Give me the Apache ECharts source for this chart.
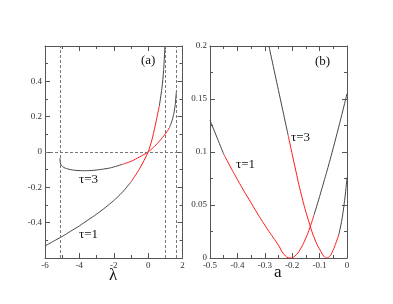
<!DOCTYPE html>
<html><head><meta charset="utf-8">
<script src="https://cdn.jsdelivr.net/npm/echarts@6/dist/echarts.min.js"></script>
<style>html,body{margin:0;padding:0;background:#fff}#c{width:393px;height:304px}</style>
</head><body><div id="c"></div>
<script>
// Panel (a): y vs lambda
const lamT1 = [-6,-5.5,-5,-4.5,-4,-3.5,-3,-2.5,-2,-1.5,-1,-0.5,0,0.25,0.5,0.65,0.8,0.9,0.98];
const yT1a  = [-0.532,-0.505,-0.478,-0.448,-0.418,-0.385,-0.352,-0.315,-0.275,-0.228,-0.17,-0.095,0,0.08,0.19,0.26,0.36,0.46,0.6];
const redT1a = [-1, 0.65];
const lamT3 = [-5.13,-5.11,-5.05,-4.9,-4.6,-4.2,-3.7,-3.2,-2.7,-2.2,-1.5,-1,-0.5,0,0.3,0.6,0.9,1.1,1.25,1.4,1.5,1.58,1.64];
const yT3a  = [-0.035,-0.06,-0.075,-0.088,-0.098,-0.104,-0.106,-0.104,-0.098,-0.09,-0.07,-0.053,-0.028,0,0.025,0.055,0.09,0.115,0.14,0.18,0.22,0.27,0.34];
const redT3a = [-1.5, 1.25];
const vLines = [-5.13, 1.0, 1.64];
const hLines = [0];
// Panel (b): y vs a
const aT1 = [-0.5,-0.45,-0.4,-0.35,-0.3,-0.25,-0.23,-0.207,-0.19,-0.17,-0.15,-0.135,-0.12,-0.1,-0.05,0];
const yT1b = [0.13,0.098,0.074,0.052,0.031,0.012,0.0035,0.0,0.0018,0.0085,0.019,0.029,0.041,0.058,0.104,0.155];
const redT1b = [-0.45, -0.12];
const aT3 = [-0.285,-0.25,-0.215,-0.19,-0.165,-0.14,-0.115,-0.095,-0.085,-0.075,-0.065,-0.055,-0.035,-0.03,-0.015,0];
const yT3b = [0.2,0.158,0.116,0.086,0.058,0.035,0.016,0.006,0.0018,0.0,0.0012,0.005,0.018,0.022,0.042,0.076];
const redT3b = [-0.215, -0.03];
const xTicksA = [-6, 2, 2];   // min, max, interval
const yTicksA = [-0.6, 0.6, 0.2];
const xTicksB = [-0.5, 0, 0.1];
const yTicksB = [0, 0.2, 0.05];

const BLACK = '#444', RED = '#ff1a1a', FONT = 'Liberation Serif';
function seg(xs, ys, lo, hi){ const d=[]; for(let i=0;i<xs.length;i++){ if(xs[i]>=lo-1e-9 && xs[i]<=hi+1e-9) d.push([xs[i],ys[i]]);} return d; }
function curve(xs, ys, red, gi, sm){
  const s = [];
  const mk = (d,c)=>({type:'line',xAxisIndex:gi*2,yAxisIndex:gi*2,data:d,smooth:sm,showSymbol:false,symbol:'none',
    lineStyle:{color:c,width:1},silent:true,z:3});
  s.push(mk(seg(xs,ys,-Infinity,red[0]),BLACK));
  s.push(mk(seg(xs,ys,red[0],red[1]),RED));
  s.push(mk(seg(xs,ys,red[1],Infinity),BLACK));
  return s;
}
function fmt(v){ return (Math.round(v*1000)/1000).toString(); }
function axes(gi, t, isX, hideEnds){
  const base = {gridIndex:gi,type:'value',min:t[0],max:t[1],interval:t[2],
    axisLine:{show:true,onZero:false,lineStyle:{color:'#555',width:1}},
    axisTick:{show:true,inside:true,length:5,lineStyle:{color:'#555'}},
    minorTick:{show:true,splitNumber:2,length:3,lineStyle:{color:'#555'}},
    splitLine:{show:false},minorSplitLine:{show:false}};
  const main = Object.assign({}, base, {position:isX?'bottom':'left',
    axisLabel:{show:true,margin:3,fontFamily:FONT,fontSize:9,color:'#333',showMinLabel:true,showMaxLabel:true,
      formatter:v=> (hideEnds && (Math.abs(v-t[0])<1e-9||Math.abs(v-t[1])<1e-9)) ? '' : fmt(v)}});
  const mirror = Object.assign({}, base, {position:isX?'top':'right',axisLabel:{show:false}});
  return [main, mirror];
}
const xAxis = [...axes(0,xTicksA,true,false), ...axes(1,xTicksB,true,false)];
const yAxis = [...axes(0,yTicksA,false,true), ...axes(1,yTicksB,false,false)];
const series = [
  ...curve(lamT1,yT1a,redT1a,0,0.25), ...curve(lamT3,yT3a,redT3a,0,0.25),
  ...curve(aT1,yT1b,redT1b,1,0.5), ...curve(aT3,yT3b,redT3b,1,0.5),
  {type:'line',xAxisIndex:0,yAxisIndex:0,data:[],silent:true,
   markLine:{silent:true,symbol:['none','none'],label:{show:false},
     lineStyle:{color:'#777',width:1,type:[3,2]},
     data:[...vLines.map(v=>({xAxis:v})), ...hLines.map(v=>({yAxis:v}))]}}
];
const txt = (x,y,s,size)=>({type:'text',left:x,top:y,style:{text:s,font:size+'px "Liberation Serif"',fill:'#111'}});
const chart = echarts.init(document.getElementById('c'),null,{renderer:'canvas'});
chart.setOption({
  animation:false,
  grid:[{left:45,top:46,width:137.5,height:212},{left:210,top:46,width:137,height:212}],
  xAxis, yAxis, series,
  graphic:[
    txt(141,54,'(a)',13), txt(315,55,'(b)',13),
    txt(79,173,'τ=3',13), txt(79,228,'τ=1',13),
    txt(291,131,'τ=3',13), txt(236,158,'τ=1',13),
    txt(109,267,'λ',17), txt(274,264,'a',17)
  ]
});
</script></body></html>
